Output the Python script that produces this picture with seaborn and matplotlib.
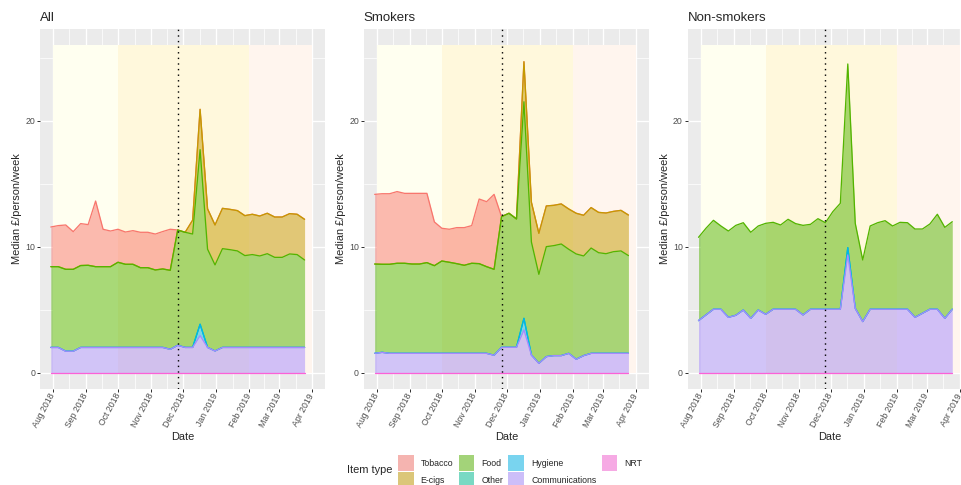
import pandas as pd
import numpy as np
import matplotlib
matplotlib.use("Agg")
import matplotlib.pyplot as plt
import matplotlib.dates as mdates
from matplotlib.colors import to_rgb
from matplotlib.patches import Patch
import seaborn as sns

# weekly medians, Monday 30 Jul 2018 .. Monday 25 Mar 2019
weeks = pd.date_range("2018-07-30", "2019-03-25", freq="7D")

item_types = ["Tobacco", "E-cigs", "Food", "Other", "Hygiene", "Communications", "NRT"]
item_colours = ["#F8766D", "#C49A00", "#53B400", "#00C094", "#00B6EB", "#A58AFF", "#FB61D7"]

# All
all_tobacco = [3.15, 3.26, 3.52, 2.99, 3.33, 3.23, 5.21, 2.97, 2.83, 2.62, 2.56, 2.67, 2.81, 2.81, 2.85, 2.97, 3.26,
               0, 0, 0, 0, 0, 0, 0, 0, 0, 0, 0, 0, 0, 0, 0, 0, 0, 0]
all_ecigs = [0, 0, 0, 0, 0, 0, 0, 0, 0, 0, 0, 0, 0, 0, 0, 0, 0, 0, 0,
             1.1, 3.2, 3.2, 3.17, 3.2, 3.2, 3.2, 3.17, 3.2, 3.17, 3.21, 3.2, 3.2, 3.2, 3.2, 3.23]
all_food = [6.41, 6.41, 6.5, 6.5, 6.5, 6.52, 6.41, 6.41, 6.41, 6.76, 6.6, 6.6, 6.33, 6.33, 6.15, 6.23, 6.27,
            9.15, 9.14, 9.0, 13.86, 7.8, 6.83, 7.84, 7.76, 7.66, 7.29, 7.37, 7.26, 7.44, 7.15, 7.15, 7.42, 7.37, 6.94]
all_other = [0] * 35
all_hygiene = [0, 0, 0, 0, 0, 0, 0, 0, 0, 0, 0, 0, 0, 0, 0, 0, 0, 0, 0, 0,
               0.9, 0, 0, 0, 0, 0, 0, 0, 0, 0, 0, 0, 0, 0, 0]
all_comms = [2.0, 2.0, 1.7, 1.7, 2.0, 2.0, 2.0, 2.0, 2.0, 2.0, 2.0, 2.0, 2.0, 2.0, 2.0, 2.0, 1.85,
             2.17, 2.0, 2.0, 2.94, 2.0, 1.72, 2.0, 2.0, 2.0, 2.0, 2.0, 2.0, 2.0, 2.0, 2.0, 2.0, 2.0, 2.0]
all_nrt = [0] * 35

# Smokers
smk_tobacco = [5.53, 5.6, 5.6, 5.69, 5.55, 5.61, 5.61, 5.5, 3.47, 2.6, 2.62, 2.86, 2.99, 2.99, 5.13, 5.16, 5.95,
               0, 0, 0, 0, 0, 0, 0, 0, 0, 0, 0, 0, 0, 0, 0, 0, 0, 0]
smk_ecigs = [0, 0, 0, 0, 0, 0, 0, 0, 0, 0, 0, 0, 0, 0, 0, 0, 0, 0, 0, 0,
             3.18, 3.15, 3.26, 3.23, 3.2, 3.18, 3.2, 3.23, 3.23, 3.21, 3.2, 3.23, 3.2, 3.22, 3.22]
smk_food = [7.09, 6.99, 7.07, 7.15, 7.15, 7.09, 7.09, 7.2, 6.96, 7.33, 7.23, 7.12, 6.99, 7.15, 7.12, 6.88, 6.82,
            10.37, 10.64, 10.19, 17.19, 8.97, 7.06, 8.73, 8.73, 8.86, 8.26, 8.36, 7.91, 8.36, 7.99, 7.91, 8.07, 8.13, 7.76]
smk_other = [0] * 35
smk_hygiene = [0, 0, 0, 0, 0, 0, 0, 0, 0, 0, 0, 0, 0, 0, 0, 0, 0, 0, 0, 0,
               0.92, 0, 0, 0, 0, 0, 0, 0, 0, 0, 0, 0, 0, 0, 0]
smk_comms = [1.53, 1.61, 1.53, 1.53, 1.53, 1.53, 1.53, 1.53, 1.53, 1.53, 1.53, 1.53, 1.53, 1.53, 1.53, 1.53, 1.38,
             2.01, 2.01, 2.01, 3.39, 1.4, 0.74, 1.27, 1.35, 1.35, 1.53, 1.06, 1.35, 1.53, 1.53, 1.53, 1.53, 1.53, 1.53]
smk_nrt = [0] * 35

# Non-smokers
non_food = [6.61, 6.88, 7.06, 6.61, 6.85, 7.14, 6.93, 6.83, 6.67, 7.22, 6.9, 6.69, 7.14, 6.8, 7.11, 6.74, 7.19, 6.87,
            7.75, 8.41, 14.58, 6.75, 4.89, 6.61, 6.87, 7.03, 6.61, 6.9, 6.87, 7.01, 6.69, 6.77, 7.54, 7.22, 6.95]
non_other = [0] * 35
non_hygiene = [0, 0, 0, 0, 0, 0, 0, 0, 0, 0, 0, 0, 0, 0, 0, 0, 0, 0, 0, 0,
               0.58, 0, 0, 0, 0, 0, 0, 0, 0, 0, 0, 0, 0, 0, 0]
non_comms = [4.13, 4.58, 5.03, 5.03, 4.39, 4.55, 4.97, 4.31, 4.97, 4.63, 5.03, 5.03, 5.03, 5.03, 4.58, 5.03, 5.03, 5.03,
             5.03, 5.03, 9.34, 5.1, 4.05, 5.03, 5.03, 5.03, 5.03, 5.03, 5.03, 4.39, 4.71, 5.03, 5.03, 4.31, 5.03]
non_nrt = [0] * 35

# study periods shaded in the background
period_starts = ["2018-08-01", "2018-10-01", "2019-02-01"]
period_ends = ["2018-10-01", "2019-02-01", "2019-04-01"]
period_colours = ["#FFFFF0", "#FFF8DC", "#FFF5EE"]
switch_date = "2018-11-26"
month_ticks = pd.date_range("2018-08-01", "2019-04-01", freq="MS")

panels = [
    ("All", {"Tobacco": all_tobacco, "E-cigs": all_ecigs, "Food": all_food, "Other": all_other,
             "Hygiene": all_hygiene, "Communications": all_comms, "NRT": all_nrt}),
    ("Smokers", {"Tobacco": smk_tobacco, "E-cigs": smk_ecigs, "Food": smk_food, "Other": smk_other,
                 "Hygiene": smk_hygiene, "Communications": smk_comms, "NRT": smk_nrt}),
    ("Non-smokers", {"Food": non_food, "Other": non_other, "Hygiene": non_hygiene,
                     "Communications": non_comms, "NRT": non_nrt}),
]

sns.set_theme(style="darkgrid", rc={
    "axes.facecolor": "#EBEBEB",
    "grid.color": "white",
    "figure.facecolor": "white",
})
plt.rcParams["font.family"] = ["Liberation Sans", "DejaVu Sans"]

W, H = 961, 485
fig = plt.figure(figsize=(W / 72, H / 72), dpi=72)

x_lo = mdates.date2num(pd.Timestamp("2018-08-01"))
x_hi = mdates.date2num(pd.Timestamp("2019-04-01"))
x_pad = (x_hi - x_lo) * 0.05
tick_nums = mdates.date2num(month_ticks)
minor_nums = (tick_nums[:-1] + tick_nums[1:]) / 2

ax_bottom, ax_top = 389, 28.7
for i, (title, series) in enumerate(panels):
    left = 40 + i * 323.85
    ax = fig.add_axes([left / W, (H - ax_bottom) / H, 285 / W, (ax_bottom - ax_top) / H])
    ax.set_axisbelow(True)

    for s, e, c in zip(period_starts, period_ends, period_colours):
        ax.fill_between([mdates.date2num(pd.Timestamp(s)), mdates.date2num(pd.Timestamp(e))],
                        0, 26, color=c, lw=0, zorder=1)

    df = pd.DataFrame(series, index=weeks)
    order = [t for t in item_types[::-1] if t in df.columns]
    tops = df[order].cumsum(axis=1)
    bottoms = tops - df[order]

    z = 2
    for item, colour in zip(item_types, item_colours):
        if item not in df.columns:
            continue
        ax.fill_between(mdates.date2num(weeks), bottoms[item].values, tops[item].values,
                        color=colour, alpha=0.5, lw=0, zorder=z)
        sns.lineplot(x=mdates.date2num(weeks), y=tops[item].values, color=colour,
                     lw=1.3, ax=ax, zorder=z + 1)
        z += 2

    ax.axvline(mdates.date2num(pd.Timestamp(switch_date)), color="black",
               ls=(0, (1, 3)), lw=1.4, zorder=50)

    ax.set_xlim(x_lo - x_pad, x_hi + x_pad)
    ax.set_ylim(-1.3, 27.3)
    ax.set_xticks(tick_nums)
    ax.set_xticklabels([d.strftime("%b %Y") for d in month_ticks], rotation=62,
                       ha="right", rotation_mode="anchor", va="center")
    ax.set_xticks(minor_nums, minor=True)
    ax.set_yticks([0, 10, 20])
    ax.set_yticks([5, 15, 25], minor=True)
    ax.grid(which="major", color="white", lw=1.4)
    ax.grid(which="minor", color="white", lw=0.7)
    ax.tick_params(which="major", length=2.75, width=1.0, color="#333333",
                   labelsize=8.8, labelcolor="#4D4D4D", pad=2.2, bottom=True, left=True)
    ax.tick_params(which="minor", length=0)
    for sp in ax.spines.values():
        sp.set_visible(False)

    ax.set_xlabel("Date", fontsize=11, labelpad=2.75)
    ax.set_ylabel("Median £/person/week", fontsize=11, labelpad=2.75)
    ax.set_title(title, loc="left", fontsize=13.2, pad=7.5)

# legend (keys blended over grey95 like ggplot's key background)
key_bg = np.array(to_rgb("#F2F2F2"))
handles = [Patch(facecolor=tuple(0.5 * np.array(to_rgb(c)) + 0.5 * key_bg), edgecolor="none")
           for c in item_colours]
fig.legend(handles, item_types, ncol=4, loc="upper left",
           bbox_to_anchor=(398 / W, 1 - 455 / H), frameon=False, fontsize=8.8,
           handlelength=1.78, handleheight=2.37, handletextpad=0.8, columnspacing=0.6,
           labelspacing=0.15, borderpad=0, borderaxespad=0)
fig.text(392 / W, 1 - 470 / H, "Item type", ha="right", va="center", fontsize=11)

fig.savefig("out.png", dpi=72)
